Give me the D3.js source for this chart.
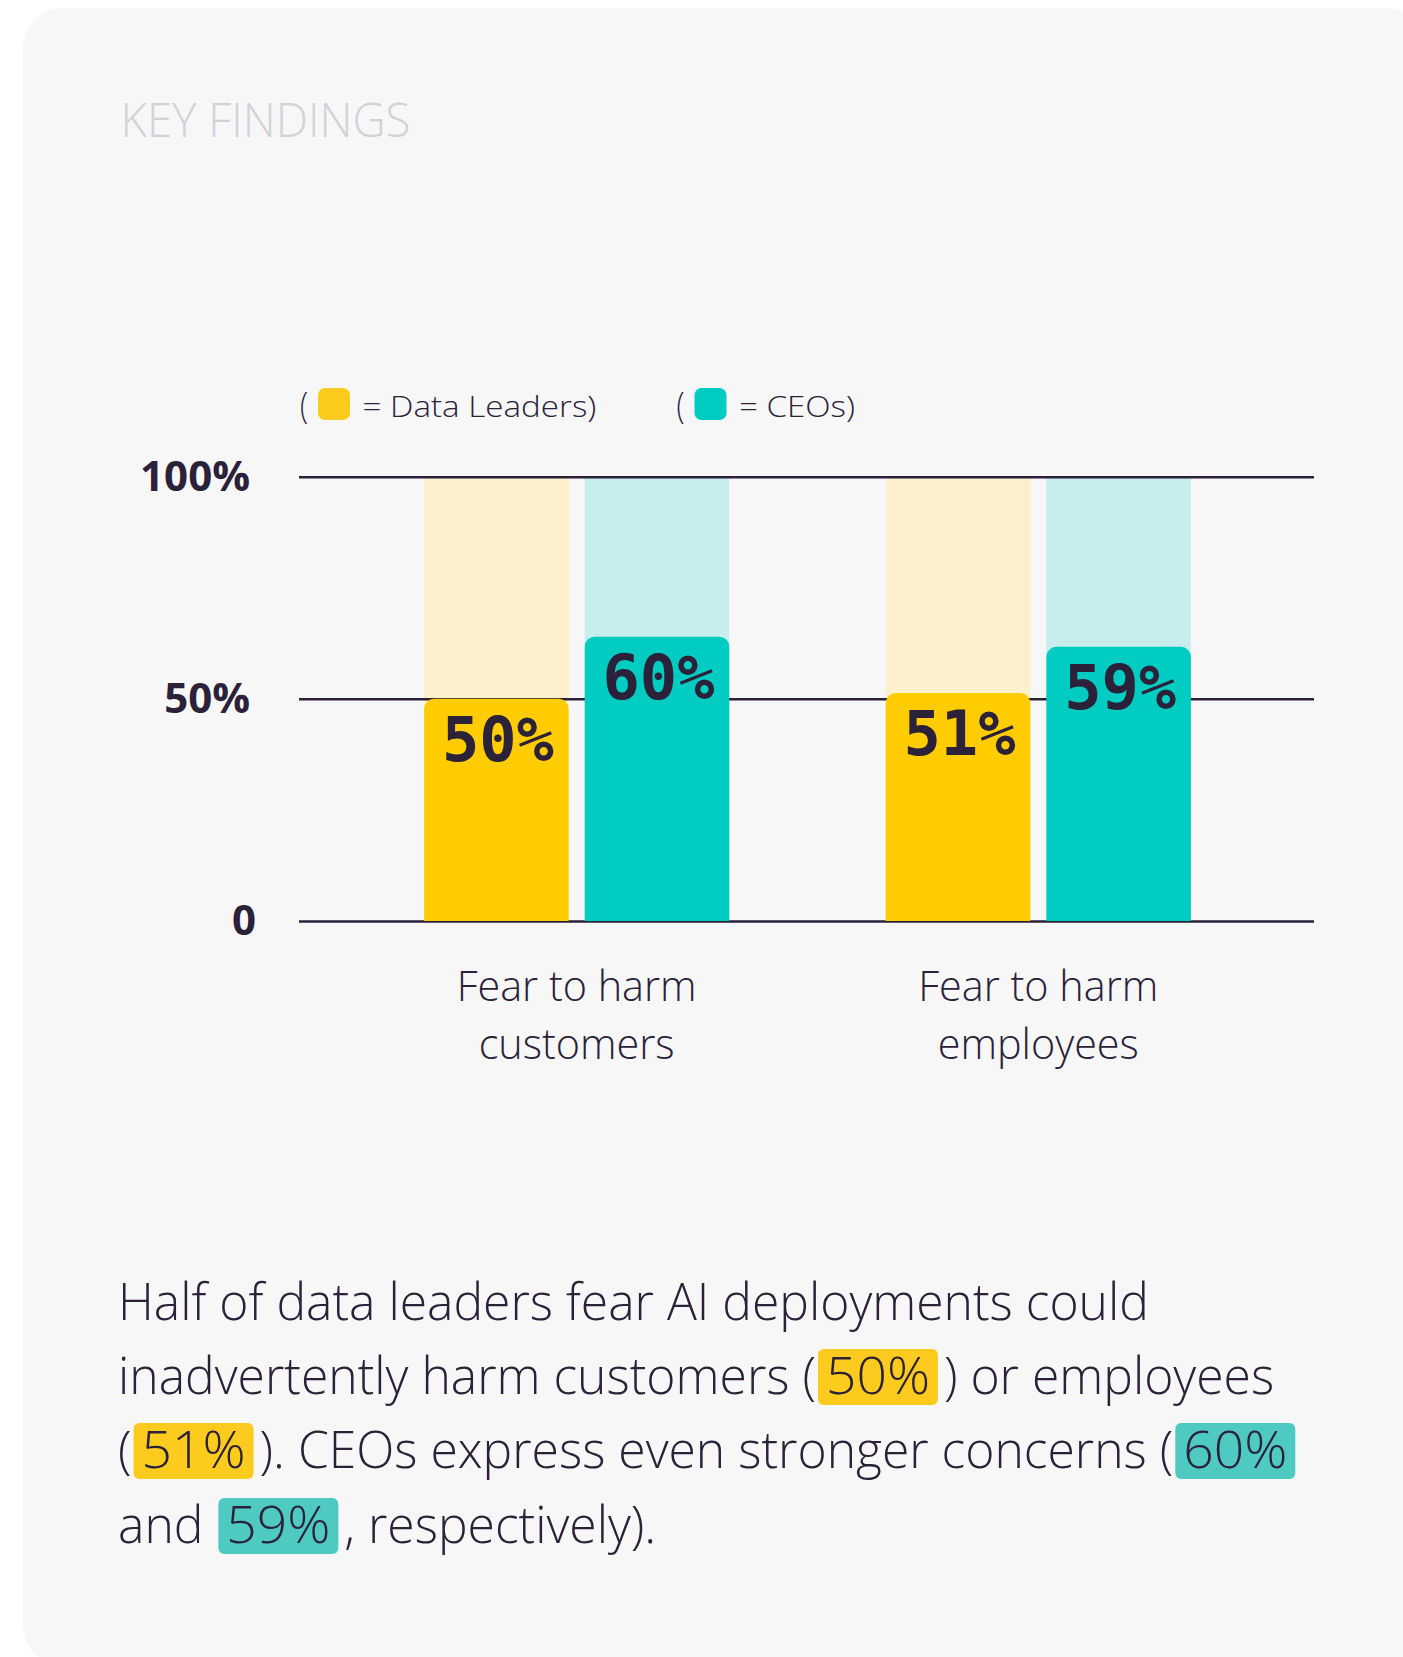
<!DOCTYPE html>
<html>
<head>
<meta charset="utf-8">
<script src="https://cdn.jsdelivr.net/npm/d3@7"></script>
<style>
  html, body { margin: 0; padding: 0; background: #fff; }
  svg { display: block; }
</style>
</head>
<body>
<script>
// data
const categories = [["Fear to harm", "customers"], ["Fear to harm", "employees"]];
const groups = ["Data Leaders", "CEOs"];
const leadersLabel = [50, 51];
const ceosLabel = [60, 59];
// the source draws its bars a bit off the printed numbers, these are the drawn heights
const leadersBar = [50, 51.3];
const ceosBar = [64, 61.7];
const yTicks = [0, 50, 100];

const colors = ["#ffcc00", "#00ccc2"];
const bgColors = ["#fbf0cb", "#c7eeec"];
const hlColors = ["#fdcb1e", "#4ecac3"];
const ink = "#2b2139";
const sans = "'Source Sans Pro', 'Open Sans', sans-serif";

const W = 1403, H = 1657;

const svg = d3.select("body").append("svg")
    .attr("width", W)
    .attr("height", H);

svg.append("rect")
    .attr("x", 23).attr("y", 8)
    .attr("width", W).attr("height", H)
    .attr("rx", 40)
    .attr("fill", "#f7f7f7");

// put a text so its ink fits a given width; align = start | middle | end
function put(parent, str, x, y, style, w, align, k) {
  var g = parent.append("g");
  var t = g.append("text").text(str);
  Object.keys(style).forEach(key => t.style(key, style[key]));
  var bb = t.node().getBBox();
  if (k == null) k = w ? w / bb.width : 1;
  var left = bb.x * k;
  if (align == "middle") left = (bb.x + bb.width / 2) * k;
  if (align == "end") left = (bb.x + bb.width) * k;
  g.attr("transform", `translate(${x - left},${y}) scale(${k},1)`);
  return k;
}

put(svg, "KEY FINDINGS", 120.5, 136.7,
    {"font-family": sans, "font-weight": 300, "font-size": "47px", "fill": "#d2d2d6"}, 290, "start");

// scales
var y = d3.scaleLinear().domain([0, 100]).range([921, 476.7]);
var x0 = d3.scaleBand().domain([0, 1]).range([299, 1316])
    .paddingInner(0.339).paddingOuter(0.271);
var x1 = d3.scaleBand().domain(groups).range([0, x0.bandwidth()]).paddingInner(0.1);

var rows = [0, 1].map(i => [
  {g: 0, cat: i, bar: leadersBar[i], label: leadersLabel[i]},
  {g: 1, cat: i, bar: ceosBar[i], label: ceosLabel[i]}
]).flat();

// pale full-height bars
svg.append("g").selectAll("rect")
    .data(rows)
    .enter()
    .append("rect")
    .attr("x", d => x0(d.cat) + x1(groups[d.g]))
    .attr("y", y(100))
    .attr("width", x1.bandwidth())
    .attr("height", y(0) - y(100))
    .attr("fill", d => bgColors[d.g]);

// axis + gridlines
var axis = svg.append("g")
    .attr("transform", "translate(299,0)")
    .call(d3.axisLeft(y).tickValues(yTicks).tickSize(-1015).tickPadding(49)
      .tickFormat(d => d ? d + "%" : "0"));
axis.select(".domain").remove();
axis.selectAll(".tick line").attr("stroke", ink).attr("stroke-width", 2.5);
axis.selectAll(".tick text")
    .attr("fill", ink)
    .attr("dx", d => d === 0 ? 6 : 0)
    .style("font-family", sans)
    .style("font-weight", 700)
    .style("font-size", "42px");

function topRound(x, yy, w, h, r) {
  return `M${x},${yy + h}V${yy + r}A${r},${r} 0 0 1 ${x + r},${yy}H${x + w - r}A${r},${r} 0 0 1 ${x + w},${yy + r}V${yy + h}Z`;
}

svg.append("g").selectAll("path")
    .data(rows)
    .enter()
    .append("path")
    .attr("d", d => topRound(x0(d.cat) + x1(groups[d.g]), y(d.bar), x1.bandwidth(), y(0) - y(d.bar), 10))
    .attr("fill", d => colors[d.g]);

svg.append("g").selectAll("text")
    .data(rows)
    .enter()
    .append("text")
    .text(d => d.label + "%")
    .attr("x", d => x0(d.cat) + x1(groups[d.g]) + x1.bandwidth() / 2 + 1.5)
    .attr("y", d => y(d.bar) + 62)
    .attr("text-anchor", "middle")
    .attr("fill", ink)
    .style("font-family", "'DejaVu Sans Mono', monospace")
    .style("font-weight", 700)
    .style("font-size", "62px");

// category labels
var catStyle = {"font-family": sans, "font-weight": 300, "font-size": "43px", "fill": ink};
categories.forEach((c, i) => {
  var cx = x0(i) + x0.bandwidth() / 2;
  var k = put(svg, c[0], cx, 1001, catStyle, 240, "middle");
  put(svg, c[1], cx, 1059, catStyle, null, "middle", k);
});

// legend
var legStyle = {"font-family": sans, "font-weight": 300, "font-size": "30px", "fill": ink};
var parenStyle = {"font-family": sans, "font-weight": 300, "font-size": "37px", "fill": ink};
var legX = [300, 676.5];
var legW = [234, 116];
groups.forEach((name, i) => {
  put(svg, "(", legX[i], 417.5, parenStyle, null, "start", 0.8);
  svg.append("rect")
      .attr("x", legX[i] + 18).attr("y", 388)
      .attr("width", 32).attr("height", 32)
      .attr("rx", 7)
      .attr("fill", i ? colors[1] : hlColors[0]);
  put(svg, "= " + name + ")", legX[i] + 62.5, 416.7, legStyle, legW[i], "start");
});

// paragraph
var para = [
  [["Half of data leaders fear AI deployments could", -1]],
  [["inadvertently harm customers (", -1], [leadersLabel[0] + "%", 0], [") or employees", -1]],
  [["(", -1], [leadersLabel[1] + "%", 0], ["). CEOs express even stronger concerns (", -1], [ceosLabel[0] + "%", 1]],
  [["and ", -1], [ceosLabel[1] + "%", 1], [", respectively).", -1]]
];
var baselines = [1320, 1394, 1468, 1543];

var pg = svg.append("g");
var probe = pg.append("text").text(para[0][0][0])
    .style("font-family", sans).style("font-weight", 300).style("font-size", "52px");
var pb = probe.node().getBBox();
var pk = 1031 / pb.width;
var px0 = pb.x;
probe.remove();
pg.attr("transform", `translate(${118 - px0 * pk},0) scale(${pk},1)`);

para.forEach((line, li) => {
  var cx = 0;
  var base = baselines[li];
  line.forEach(seg => {
    var pad = 8 / pk;
    if (seg[1] >= 0) {
      cx += 2 / pk;
      var tw = 104 / pk;
      pg.append("rect").attr("y", base - 45).attr("height", 56).attr("rx", 6)
          .attr("x", cx).attr("width", tw + pad * 2)
          .attr("fill", hlColors[seg[1]]);
      pg.append("text").text(seg[0]).attr("x", cx + pad).attr("y", base)
          .attr("textLength", tw).attr("lengthAdjust", "spacingAndGlyphs")
          .attr("fill", ink)
          .style("font-family", sans).style("font-weight", 300).style("font-size", "52px");
      cx += tw + pad * 2 + 6 / pk;
    } else {
      var t2 = pg.append("text").text(seg[0]).attr("x", cx).attr("y", base)
          .attr("fill", ink)
          .style("font-family", sans).style("font-weight", 300).style("font-size", "52px")
          .style("white-space", "pre");
      cx += t2.node().getComputedTextLength();
    }
  });
});
</script>
</body>
</html>
